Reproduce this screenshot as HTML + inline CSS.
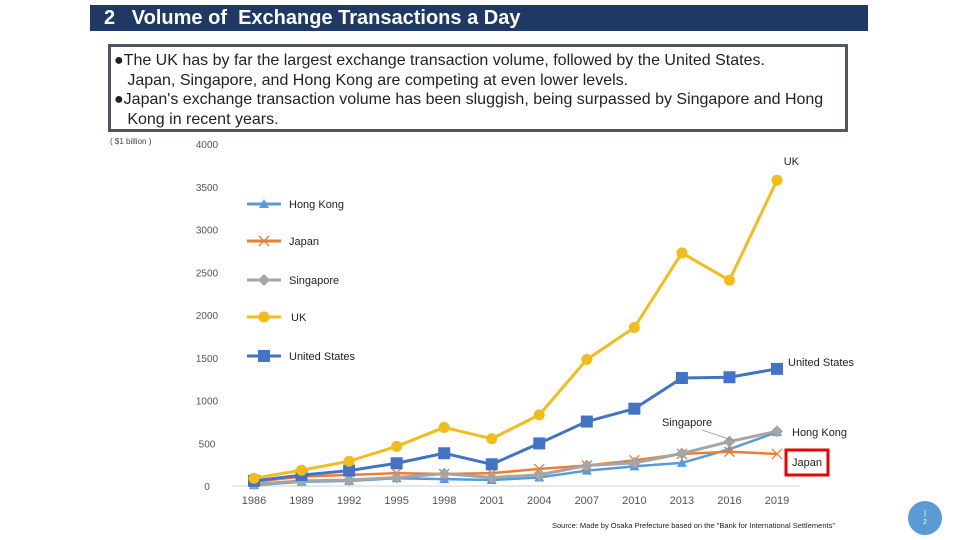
<!DOCTYPE html>
<html><head><meta charset="utf-8"><style>
body{margin:0;width:960px;height:540px;background:#fff;font-family:"Liberation Sans",sans-serif;position:relative;overflow:hidden}
#title{position:absolute;left:90px;top:5px;width:778px;height:26px;background:#203864;color:#fff;font-size:20px;font-weight:bold;line-height:27px;padding-left:14px;box-sizing:border-box}
#note{position:absolute;left:108px;top:44px;width:740px;height:88px;border:3px solid #4f5661;box-sizing:border-box;font-size:16px;line-height:19.5px;color:#222;padding:4px 0 0 3px;white-space:nowrap}
svg{position:absolute;left:0;top:0}
</style></head><body>
<div id="title">2 &nbsp; Volume of &nbsp;Exchange Transactions a Day</div>
<div id="note">●The UK has by far the largest exchange transaction volume, followed by the United States.<br>&nbsp;&nbsp;&nbsp;Japan, Singapore, and Hong Kong are competing at even lower levels.<br>●Japan's exchange transaction volume has been sluggish, being surpassed by Singapore and Hong<br>&nbsp;&nbsp;&nbsp;Kong in recent years.</div>
<svg id="chart" width="960" height="540"></svg>
<script>
const years=["1986","1989","1992","1995","1998","2001","2004","2007","2010","2013","2016","2019"];
const yTicks=[0,500,1000,1500,2000,2500,3000,3500,4000];
const ukVals=[90,184,290,464,685,553,832,1480,1854,2726,2406,3576];
const usVals=[60,128,180,266,383,254,498,754,904,1263,1272,1370];
const japanVals=[50,110,130,150,140,150,200,240,300,375,400,375];
const singaporeVals=[20,60,70,100,145,100,130,240,270,380,520,640];
const hongkongVals=[10,50,60,90,80,70,100,180,230,270,430,630];
const NS="http://www.w3.org/2000/svg";
const svg=document.getElementById('chart');
const X=i=>254+i*(777-254)/(years.length-1);
const Y=v=>486-v*(486-144)/4000;
function mk(t,a,p){const e=document.createElementNS(NS,t);for(const k in a)e.setAttribute(k,a[k]);(p||svg).appendChild(e);return e;}
function txt(x,y,s,size,anchor,fill,name){const e=mk('text',{x:x,y:y,'font-size':size,'text-anchor':anchor||'start',fill:fill||'#444','font-family':'Liberation Sans, sans-serif'});e.textContent=s;


return e;}
mk('line',{x1:232,x2:800,y1:486,y2:486,stroke:'#d0d0d0'});
yTicks.forEach(t=>{txt(207,Y(t)+4,String(t),10,'middle','#555','y-tick-label');});
years.forEach((y,i)=>{txt(X(i),Y(0)+18,y,11,'middle','#555','x-tick-label');});
txt(110,144,'( $1 billion )',8,'start','#444','y-axis-unit');
function marker(type,x,y,c,g){
 if(type==='circle')mk('circle',{cx:x,cy:y,r:5.5,fill:c},g);
 else if(type==='square')mk('rect',{x:x-6,y:y-6,width:12,height:12,fill:c},g);
 else if(type==='tri')mk('path',{d:`M${x-5},${y+4}L${x+5},${y+4}L${x},${y-5}Z`,fill:c},g);
 else if(type==='diamond')mk('path',{d:`M${x},${y-6}L${x+6},${y}L${x},${y+6}L${x-6},${y}Z`,fill:c},g);
 else if(type==='x'){mk('path',{d:`M${x-5},${y-5}L${x+5},${y+5}M${x-5},${y+5}L${x+5},${y-5}`,stroke:c,'stroke-width':1.3},g);}
}
const series=[
 {n:'hong-kong',label:'Hong Kong',vals:hongkongVals,c:'#5b9bd5',m:'tri',w:2.5},
 {n:'japan',label:'Japan',vals:japanVals,c:'#ed7d31',m:'x',w:2.5},
 {n:'singapore',label:'Singapore',vals:singaporeVals,c:'#a5a5a5',m:'diamond',w:3},
 {n:'us',label:'United States',vals:usVals,c:'#4472c4',m:'square',w:3},
 {n:'uk',label:'UK',vals:ukVals,c:'#f2bd1b',m:'circle',w:3}
];
series.forEach(s=>{
 const g=mk('g',{});
 
 
 mk('polyline',{points:s.vals.map((v,i)=>X(i)+','+Y(v)).join(' '),fill:'none',stroke:s.c,'stroke-width':s.w,'stroke-linejoin':'round'},g);
 s.vals.forEach((v,i)=>marker(s.m,X(i),Y(v),s.c,g));
});
const legY=[204,241,280,317,356];
['hong-kong','japan','singapore','uk','us'].forEach((n,k)=>{
 const s=series.find(q=>q.n===n);
 const g=mk('g',{});
 
 
 mk('line',{x1:247,x2:281,y1:legY[k],y2:legY[k],stroke:s.c,'stroke-width':3},g);
 marker(s.m,264,legY[k],s.c,g);
 const t=txt(n==='uk'?291:289,legY[k]+4,s.label,11,'start','#222','legend-label');g.appendChild(t);
});
txt(799,165,'UK',11,'end','#222','label-uk');
txt(788,366,'United States',11,'start','#222','label-us');
txt(662,426,'Singapore',11,'start','#222','label-singapore');
mk('line',{x1:702,y1:430,x2:735,y2:441,stroke:'#7a9cc6','stroke-width':0.8});
txt(792,436,'Hong Kong',11,'start','#222','label-hong-kong');
const jb=mk('rect',{x:786,y:450,width:42,height:25,fill:'none',stroke:'#e00',"stroke-width":3});


txt(807,466,'Japan',11,'middle','#222','label-japan');
txt(552,528,'Source: Made by Osaka Prefecture based on the "Bank for International Settlements"',7.5,'start','#222','source-note');
const pc=mk('circle',{cx:925,cy:518,r:17,fill:'#5b9bd5'});


txt(925,515,'|',7,'middle','#fff','page-number');
txt(925,524,'2',7,'middle','#fff','page-number');
</script>
</body></html>
